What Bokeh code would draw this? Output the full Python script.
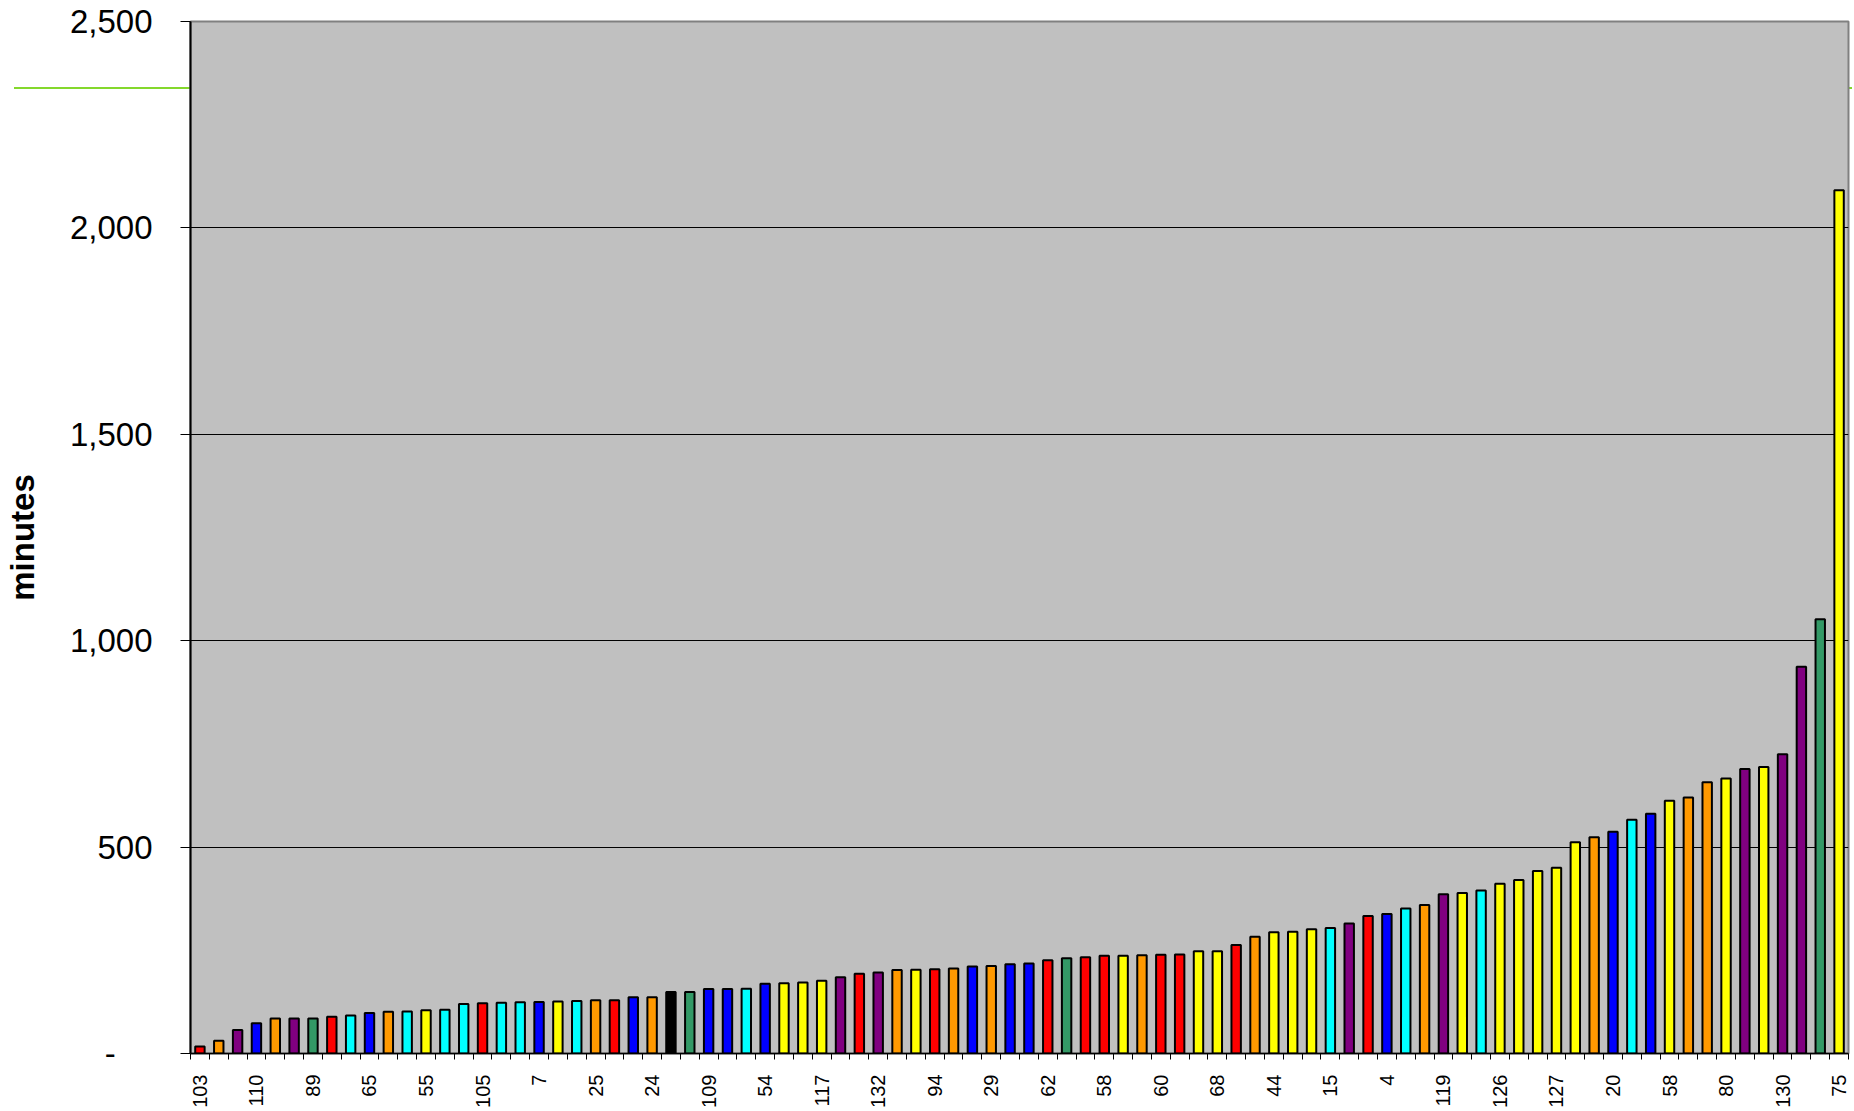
from bokeh.plotting import figure
from bokeh.models import Range1d, FixedTicker, ColumnDataSource
from bokeh.embed import file_html
from bokeh.resources import INLINE
import math

# ---- data ----
values = [17, 31, 57, 73, 85, 85, 85, 89, 92, 98,
          101, 102, 105, 106, 120, 122, 123, 124, 125, 126,
          127, 129, 129, 136, 136, 149, 149, 156, 156, 157,
          169, 170, 172, 176, 185, 193, 196, 202, 203, 204,
          206, 211, 212, 216, 218, 226, 231, 233, 237, 237,
          238, 239, 240, 248, 248, 263, 283, 294, 295, 301,
          304, 315, 333, 338, 351, 360, 386, 389, 395, 411,
          420, 442, 450, 512, 524, 537, 566, 581, 612, 620,
          657, 666, 689, 694, 725, 937, 1052, 2091]

groups = ["R", "O", "P", "B", "O", "P", "G", "R", "C", "B",
          "O", "C", "Y", "C", "C", "R", "C", "C", "B", "Y",
          "C", "O", "R", "B", "O", "K", "G", "B", "B", "C",
          "B", "Y", "Y", "Y", "P", "R", "P", "O", "Y", "R",
          "O", "B", "O", "B", "B", "R", "G", "R", "R", "Y",
          "O", "R", "R", "Y", "Y", "R", "O", "Y", "Y", "Y",
          "C", "P", "R", "B", "C", "O", "P", "Y", "C", "Y",
          "Y", "Y", "Y", "Y", "O", "B", "C", "B", "Y", "O",
          "O", "Y", "P", "Y", "P", "P", "G", "Y"]

group_colors = {"R": "#FF0000", "O": "#FF9900", "P": "#800080", "B": "#0000FF",
                "G": "#339966", "C": "#00FFFF", "Y": "#FFFF00", "K": "#000000"}

tick_labels = ["103", "110", "89", "65", "55", "105", "7", "25", "24", "109",
               "54", "117", "132", "94", "29", "62", "58", "60", "68", "44",
               "15", "4", "119", "126", "127", "20", "58", "80", "130", "75"]
label_step = 3

y_ticks = [0, 500, 1000, 1500, 2000, 2500]
y_tick_labels = ["-\u2007\u2007", "500", "1,000", "1,500", "2,000", "2,500"]
y_max = 2500
ref_level = 2338

# ---- figure ----
n = len(values)
xs = list(range(n))
src = ColumnDataSource(dict(x=xs, top=values,
                            color=[group_colors[g] for g in groups]))

FONT = "Liberation Sans"
W, H = 1852, 1110
BL, BR, BT, BB = 190, 4, 21, 56
FW = W - BL - BR
FH = H - BT - BB

p = figure(width=W, height=H, output_backend="svg", toolbar_location=None,
           x_range=Range1d(-0.5, n - 0.5), y_range=Range1d(0, y_max),
           min_border_left=BL, min_border_right=BR, min_border_top=BT,
           min_border_bottom=BB)

p.background_fill_color = "#C0C0C0"
p.outline_line_color = "#808080"
p.outline_line_width = 2

# green reference line: it sits behind the plot area, so only the parts in the
# white border are visible.  Drawn as the page background of the figure element.
green = "#84D82C"
ref_y = BT + (y_max - ref_level) / y_max * FH
p.border_fill_alpha = 0
p.styles = {
    "background-color": "white",
    "background-image": f"linear-gradient({green}, {green})",
    "background-repeat": "no-repeat",
    "background-size": f"{W - 14}px 2px",
    "background-position": f"14px {ref_y - 1:.1f}px",
}

# grid
p.xgrid.visible = False
p.ygrid.ticker = FixedTicker(ticks=y_ticks[1:-1])
p.ygrid.grid_line_color = "black"
p.ygrid.grid_line_width = 1

p.vbar(x="x", top="top", bottom=0, width=0.5, source=src,
       fill_color="color", line_color="black", line_width=2)

# x axis
xa = p.xaxis[0]
major = list(range(0, n, label_step))
xa.ticker = FixedTicker(ticks=major, minor_ticks=[i - 0.5 for i in range(n + 1)])
xa.major_label_overrides = {m: lab for m, lab in zip(major, tick_labels)}
xa.major_label_orientation = math.pi / 2
xa.major_tick_out = 0
xa.major_tick_in = 0
xa.minor_tick_out = 6
xa.minor_tick_in = 0
xa.minor_tick_line_color = "black"
xa.major_label_standoff = 15
xa.major_label_text_font = FONT
xa.major_label_text_font_size = "20px"
xa.major_label_text_color = "black"
xa.axis_line_color = "black"
xa.axis_line_width = 1.5

# y axis
ya = p.yaxis[0]
ya.ticker = FixedTicker(ticks=y_ticks)
ya.major_label_overrides = {t: lab for t, lab in zip(y_ticks, y_tick_labels)}
ya.major_tick_out = 10
ya.major_tick_in = 0
ya.minor_tick_out = 0
ya.minor_tick_in = 0
ya.major_tick_line_color = "black"
ya.major_label_standoff = 28
ya.major_label_text_font = FONT
ya.major_label_text_font_size = "33px"
ya.major_label_text_color = "black"
ya.axis_line_color = "black"
ya.axis_line_width = 2
ya.axis_label = "minutes"
ya.axis_label_text_font = FONT
ya.axis_label_text_font_size = "33px"
ya.axis_label_text_font_style = "bold"
ya.axis_label_text_color = "black"
ya.axis_label_standoff = 26

open("out.html", "w").write(file_html(p, INLINE))
